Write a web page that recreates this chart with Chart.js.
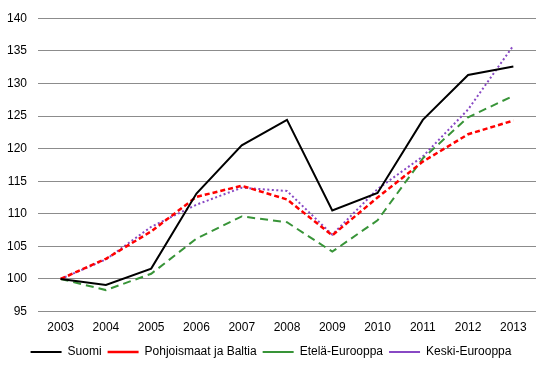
<!DOCTYPE html>
<html>
<head>
<meta charset="utf-8">
<script src="https://cdn.jsdelivr.net/npm/chart.js@4"></script>
<style>
  html, body { margin: 0; padding: 0; background: #fff; }
  #wrap { width: 550px; height: 369px; }
</style>
</head>
<body>
<div id="wrap"><canvas id="chart"></canvas></div>
<script>
// Data (index, 2003 = 100)
const years = ['2003', '2004', '2005', '2006', '2007', '2008', '2009', '2010', '2011', '2012', '2013'];
const suomi = [100, 99.1, 101.6, 113.1, 120.5, 124.4, 110.5, 113.2, 124.4, 131.3, 132.6];
const pohjoismaat = [100, 103.1, 107.3, 112.6, 114.3, 112.2, 106.7, 112.5, 118.0, 122.2, 124.3];
const etela = [100, 98.3, 100.8, 106.2, 109.6, 108.7, 104.2, 109.0, 118.5, 124.8, 128.1];
const keski = [100, 103.0, 108.0, 111.4, 114.0, 113.5, 106.8, 113.8, 118.8, 126.0, 135.8];
const yTicks = { min: 95, max: 140, step: 5 };

const fontFamily = '"Liberation Sans", Arial, sans-serif';

function series(label, data, color, dash, width) {
    return {
        label: label,
        data: data,
        borderColor: color,
        backgroundColor: color,
        borderWidth: width,
        borderDash: dash,
        pointRadius: 0,
        pointHoverRadius: 0,
        tension: 0,
        fill: false
    };
}

const ctx = document.getElementById('chart').getContext('2d');
new Chart(ctx, {
    type: 'line',
    data: {
        labels: years,
        datasets: [
            series('Suomi', suomi, '#000000', [], 2),
            series('Pohjoismaat ja Baltia', pohjoismaat, '#ff0000', [5, 3], 2.5),
            series('Etelä-Eurooppa', etela, '#389438', [8, 5], 2),
            series('Keski-Eurooppa', keski, '#8848c4', [2, 2.5], 2)
        ]
    },
    options: {
        responsive: true,
        maintainAspectRatio: false,
        animation: false,
        layout: { autoPadding: false, padding: { left: 6, right: 14, top: 11, bottom: 1 } },
        plugins: {
            tooltip: { enabled: false },
            legend: {
                position: 'bottom',
                labels: {
                    usePointStyle: true,
                    pointStyle: 'line',
                    pointStyleWidth: 31,
                    padding: 6,
                    color: '#000',
                    font: { family: fontFamily, size: 12 }
                }
            }
        },
        scales: {
            x: {
                offset: true,
                grid: { display: false },
                border: { display: false },
                ticks: {
                    color: '#000',
                    padding: 1,
                    maxRotation: 0,
                    font: { family: fontFamily, size: 12 }
                },
                afterFit: function(axis) { axis.height += 4; }
            },
            y: {
                min: yTicks.min,
                max: yTicks.max,
                grid: { color: '#8c8c8c', lineWidth: 1, drawTicks: false },
                border: { display: false },
                ticks: {
                    stepSize: yTicks.step,
                    color: '#000',
                    padding: 11,
                    font: { family: fontFamily, size: 12 }
                },
                afterFit: function(axis) { axis.width = 32; }
            }
        }
    }
});
</script>
</body>
</html>
